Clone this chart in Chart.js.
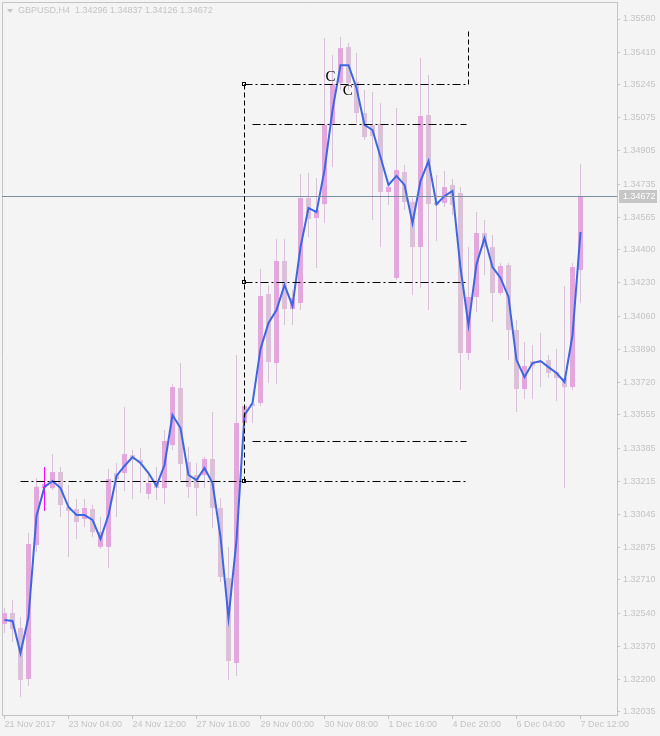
<!DOCTYPE html>
<html>
<head>
<meta charset="utf-8">
<title>GBPUSD,H4</title>
<script src="https://cdn.jsdelivr.net/npm/chart.js@4.4.1/dist/chart.umd.min.js"></script>
<style>
  html, body { margin: 0; padding: 0; background: #f4f4f4; }
  canvas { display: block; }
</style>
</head>
<body>
<canvas id="chart" width="660" height="736"></canvas>
<script>
// GBPUSD H4 bars, 21 Nov 2017 20:00 .. 7 Dec 2017 12:00 (index = bar number)
const openPrices = [
    1.32485, 1.32541, 1.32464, 1.32203, 1.32889, 1.33186, 1.33180, 1.33262, 1.33083, 1.33073,
    1.33022, 1.33073, 1.32879, 1.32879, 1.33257, 1.33257, 1.33349, 1.33324, 1.33150, 1.33216,
    1.33180, 1.33400, 1.33692, 1.33313, 1.33247, 1.33247, 1.33329, 1.33078, 1.32720, 1.32285,
    1.33513, 1.33610, 1.33615, 1.34173, 1.33820, 1.34342, 1.34096, 1.34127, 1.34664, 1.34562,
    1.34633, 1.35038, 1.35252, 1.35437, 1.35258, 1.35099, 1.35038, 1.35043, 1.34695, 1.34255,
    1.34797, 1.34644, 1.34413, 1.35089, 1.34644, 1.34639, 1.34731, 1.34690, 1.33871, 1.34158,
    1.34485, 1.34413, 1.34178, 1.34321, 1.33989, 1.33687, 1.33830, 1.33820, 1.33835, 1.33774,
    1.33743, 1.33697, 1.34296
]
const highPrices = [
    1.32567, 1.32607, 1.32520, 1.32950, 1.33232, 1.33288, 1.33354, 1.33288, 1.33196, 1.33124,
    1.33124, 1.33093, 1.33032, 1.33278, 1.33308, 1.33595, 1.33375, 1.33385, 1.33257, 1.33288,
    1.33477, 1.33713, 1.33820, 1.33390, 1.33308, 1.33339, 1.33569, 1.33129, 1.32879, 1.33861,
    1.33610, 1.33631, 1.34301, 1.34219, 1.34454, 1.34454, 1.34193, 1.34787, 1.34792, 1.34766,
    1.35483, 1.35396, 1.35488, 1.35457, 1.35406, 1.35217, 1.35206, 1.35150, 1.34720, 1.35125,
    1.34833, 1.34664, 1.35380, 1.35293, 1.34782, 1.34802, 1.34761, 1.34720, 1.34413, 1.34592,
    1.34552, 1.34475, 1.34332, 1.34332, 1.34040, 1.33927, 1.33912, 1.33973, 1.33861, 1.33892,
    1.34214, 1.34332, 1.34837
]
const lowPrices = [
    1.32439, 1.32393, 1.32111, 1.32167, 1.32853, 1.33063, 1.33170, 1.33032, 1.32827, 1.32920,
    1.32981, 1.32930, 1.32868, 1.32771, 1.33032, 1.33165, 1.33124, 1.33155, 1.33124, 1.33119,
    1.33099, 1.33375, 1.33221, 1.33129, 1.33037, 1.33180, 1.32976, 1.32700, 1.32198, 1.32219,
    1.33503, 1.33513, 1.33600, 1.33718, 1.33713, 1.34014, 1.34014, 1.34091, 1.34465, 1.34306,
    1.34536, 1.34823, 1.35217, 1.35217, 1.35048, 1.34961, 1.34552, 1.34413, 1.34628, 1.34245,
    1.34603, 1.34168, 1.34204, 1.34091, 1.34444, 1.34618, 1.34577, 1.33682, 1.33835, 1.34081,
    1.34270, 1.34030, 1.34168, 1.33835, 1.33569, 1.33636, 1.33636, 1.33697, 1.33743, 1.33626,
    1.33180, 1.33682, 1.34126
]
const closePrices = [
    1.32541, 1.32459, 1.32198, 1.32894, 1.33186, 1.33201, 1.33262, 1.33093, 1.33063, 1.33006,
    1.33078, 1.32955, 1.32955, 1.33226, 1.33226, 1.33354, 1.33324, 1.33308, 1.33206, 1.33180,
    1.33421, 1.33697, 1.33303, 1.33186, 1.33180, 1.33329, 1.33078, 1.32725, 1.32295, 1.33513,
    1.33600, 1.33600, 1.34163, 1.33825, 1.34342, 1.34096, 1.34152, 1.34664, 1.34557, 1.34603,
    1.35038, 1.35247, 1.35431, 1.35252, 1.35099, 1.34976, 1.34981, 1.34695, 1.34720, 1.34807,
    1.34644, 1.34413, 1.35084, 1.34633, 1.34628, 1.34720, 1.34628, 1.33871, 1.34158, 1.34485,
    1.34413, 1.34178, 1.34316, 1.33989, 1.33687, 1.33805, 1.33805, 1.33830, 1.33769, 1.33743,
    1.33697, 1.34311, 1.34672
]
// blue indicator line
const maLine = [
    1.32505, 1.32500, 1.32336, 1.32520, 1.33037, 1.33186, 1.33216, 1.33180, 1.33083, 1.33042,
    1.33042, 1.33017, 1.32920, 1.33042, 1.33242, 1.33293, 1.33339, 1.33308, 1.33257, 1.33191,
    1.33298, 1.33554, 1.33487, 1.33247, 1.33221, 1.33283, 1.33206, 1.32930, 1.32515, 1.32914,
    1.33554, 1.33615, 1.33892, 1.34025, 1.34091, 1.34219, 1.34112, 1.34413, 1.34613, 1.34592,
    1.34807, 1.35114, 1.35344, 1.35344, 1.35227, 1.35038, 1.35012, 1.34874, 1.34731, 1.34777,
    1.34731, 1.34536, 1.34751, 1.34853, 1.34633, 1.34674, 1.34700, 1.34306, 1.34014, 1.34326,
    1.34459, 1.34311, 1.34255, 1.34158, 1.33835, 1.33748, 1.33820, 1.33830, 1.33799, 1.33769,
    1.33723, 1.33963, 1.34490
]

// time axis
const timeLabelBars = [0, 8, 16, 24, 32, 40, 48, 56, 64, 72]
const timeLabels = ['21 Nov 2017', '23 Nov 04:00', '24 Nov 12:00', '27 Nov 16:00', '29 Nov 00:00',
    '30 Nov 08:00', '1 Dec 16:00', '4 Dec 20:00', '6 Dec 04:00', '7 Dec 12:00']

// price axis
const priceTicks = [1.35580, 1.35410, 1.35245, 1.35075, 1.34905, 1.34735, 1.34565, 1.34400,
    1.34230, 1.34060, 1.33890, 1.33720, 1.33555, 1.33385, 1.33215, 1.33045, 1.32875, 1.32710,
    1.32540, 1.32370, 1.32200, 1.32035]
const priceMin = 1.32019
const priceMax = 1.35667
const bidPrice = 1.34672

// highlighted bar (drawn as an OHLC stick)
const signalBar = [5]
const signalHigh = [1.33288]
const signalLow = [1.33063]
const signalOpen = [1.33186]

// drawn objects: horizontal levels (bar index from / to), vertical lines, text marks
const levelPrice = [1.33216, 1.33421, 1.34234, 1.35043, 1.35247]
const levelFrom = [1.9, 30.95, 29.9, 30.95, 29.9]
const levelTo = [57.7, 57.7, 57.7, 57.7, 57.9]
const vLineBar = [29.9, 57.9]
const vLineFrom = [1.33216, 1.35247]
const vLineTo = [1.35247, 1.35534]
const anchorBar = [29.9, 29.9, 29.9]
const anchorPrice = [1.35247, 1.34234, 1.33216]
const markBar = [40.75, 42.9]
const markPrice = [1.35283, 1.35211]
const markText = ['C', 'C']

const symbolTitle = 'GBPUSD,H4  1.34296 1.34837 1.34126 1.34672'


// Colors
const bgColor = '#f4f4f4'
const axisColor = '#c4c4c4'
const textColor = '#c4c4c4'
const bullColor = '#e3a7de'
const bearColor = '#dbc0d9'
const wickColor = '#d8c2d7'
const lineColor = '#3d67e0'

Chart.defaults.font.family = "'Liberation Sans', Arial, sans-serif"
Chart.defaults.font.size = 9
Chart.defaults.color = textColor


const bars = openPrices.map((o, i) => i)
const isBull = i => closePrices[i] >= openPrices[i]


// Background, objects, bid label and title
const overlays = {
    id: 'overlays',
    beforeDraw(chart) {
        const { ctx, width, height, chartArea: a } = chart
        ctx.save()
        ctx.fillStyle = bgColor
        ctx.fillRect(0, 0, width, height)
        ctx.strokeStyle = axisColor
        ctx.lineWidth = 1
        ctx.beginPath()
        ctx.moveTo(a.left + 0.5, a.bottom)
        ctx.lineTo(a.left + 0.5, a.top + 0.5)
        ctx.lineTo(a.right, a.top + 0.5)
        ctx.stroke()
        ctx.restore()
    },
    afterDatasetsDraw(chart) {
        const { ctx, chartArea: a, scales: { x, y } } = chart
        const px = v => Math.round(x.getPixelForValue(v)) + 0.5
        const py = v => Math.round(y.getPixelForValue(v)) + 0.5
        ctx.save()
        ctx.lineWidth = 1

        // signal bar open tick
        ctx.strokeStyle = '#ff00ff'
        signalBar.forEach((b, i) => {
            ctx.beginPath()
            ctx.moveTo(px(b) - 3, py(signalOpen[i]))
            ctx.lineTo(px(b), py(signalOpen[i]))
            ctx.stroke()
        })

        // bid line
        ctx.strokeStyle = '#7b8da1'
        ctx.beginPath()
        ctx.moveTo(a.left, py(bidPrice))
        ctx.lineTo(a.right, py(bidPrice))
        ctx.stroke()

        // levels
        ctx.strokeStyle = '#000000'
        ctx.setLineDash([8, 3, 2, 3])
        levelPrice.forEach((p, i) => {
            ctx.beginPath()
            ctx.moveTo(px(levelFrom[i]), py(p))
            ctx.lineTo(px(levelTo[i]), py(p))
            ctx.stroke()
        })
        ctx.setLineDash([5, 3])
        vLineBar.forEach((b, i) => {
            ctx.beginPath()
            ctx.moveTo(px(b), py(vLineFrom[i]))
            ctx.lineTo(px(b), py(vLineTo[i]))
            ctx.stroke()
        })
        ctx.setLineDash([])
        anchorBar.forEach((b, i) => {
            ctx.strokeRect(px(b) - 2, py(anchorPrice[i]) - 2, 3, 3)
        })

        // text marks
        ctx.fillStyle = '#000000'
        ctx.font = "15px 'Liberation Serif', serif"
        ctx.textAlign = 'center'
        ctx.textBaseline = 'middle'
        markText.forEach((t, i) => {
            ctx.fillText(t, x.getPixelForValue(markBar[i]), y.getPixelForValue(markPrice[i]))
        })
        ctx.restore()
    },
    afterDraw(chart) {
        const { ctx, chartArea: a, scales: { y } } = chart
        ctx.save()
        // bid price label on the axis
        const by = Math.round(y.getPixelForValue(bidPrice))
        ctx.fillStyle = '#c6c6c6'
        ctx.fillRect(a.right + 2, by - 6, 38, 13)
        ctx.fillStyle = '#ffffff'
        ctx.font = "9px 'Liberation Sans', Arial, sans-serif"
        ctx.textAlign = 'left'
        ctx.textBaseline = 'middle'
        ctx.fillText(bidPrice.toFixed(5), a.right + 6, by + 0.5)

        // symbol title
        ctx.fillStyle = textColor
        ctx.beginPath()
        ctx.moveTo(7, 9)
        ctx.lineTo(13, 9)
        ctx.lineTo(10, 13)
        ctx.closePath()
        ctx.fill()
        ctx.fillText(symbolTitle, 18, 11)
        ctx.restore()
    }
}


new Chart(document.getElementById('chart'), {
    data: {
        datasets: [
            {
                type: 'line',
                data: bars.map(i => ({ x: i, y: maLine[i] })),
                borderColor: lineColor,
                borderWidth: 2,
                pointRadius: 0,
                tension: 0,
                order: 0
            },
            {
                type: 'bar',
                data: signalBar.map((b, i) => ({ x: b, y: [signalLow[i], signalHigh[i]] })),
                backgroundColor: '#ff00ff',
                barThickness: 1,
                grouped: false,
                inflateAmount: 0,
                order: 1
            },
            {
                type: 'bar',
                data: bars.map(i => ({ x: i, y: [openPrices[i], closePrices[i]] })),
                backgroundColor: c => isBull(c.dataIndex) ? bullColor : bearColor,
                barThickness: 5,
                minBarLength: 1,
                grouped: false,
                inflateAmount: 0,
                order: 2
            },
            {
                type: 'bar',
                data: bars.map(i => ({ x: i, y: [lowPrices[i], highPrices[i]] })),
                backgroundColor: wickColor,
                barThickness: 1,
                grouped: false,
                inflateAmount: 0,
                order: 3
            }
        ]
    },
    options: {
        responsive: false,
        animation: false,
        devicePixelRatio: 1,
        layout: { padding: { left: 2, top: 2, right: 0, bottom: 0 } },
        plugins: { legend: { display: false }, tooltip: { enabled: false } },
        scales: {
            x: {
                type: 'linear',
                position: 'bottom',
                offset: false,
                min: -0.3125,
                max: 76.5625,
                afterBuildTicks: s => { s.ticks = timeLabelBars.map(v => ({ value: v })) },
                afterFit: s => { s.height = 21; s.paddingLeft = 0; s.paddingRight = 0 },
                grid: { drawOnChartArea: false, offset: false, tickLength: 4, color: axisColor },
                border: { color: axisColor },
                ticks: {
                    align: 'start',
                    padding: 0,
                    maxRotation: 0,
                    autoSkip: false,
                    color: textColor,
                    callback: v => timeLabels[timeLabelBars.indexOf(v)]
                }
            },
            y: {
                type: 'linear',
                position: 'right',
                min: priceMin,
                max: priceMax,
                afterBuildTicks: s => { s.ticks = priceTicks.map(v => ({ value: v })) },
                afterFit: s => { s.width = 43; s.paddingTop = 0; s.paddingBottom = 0 },
                grid: { drawOnChartArea: false, tickLength: 3, color: axisColor },
                border: { color: axisColor },
                ticks: {
                    padding: 3,
                    autoSkip: false,
                    color: textColor,
                    callback: v => v.toFixed(5)
                }
            }
        }
    },
    plugins: [overlays]
})
</script>
</body>
</html>
